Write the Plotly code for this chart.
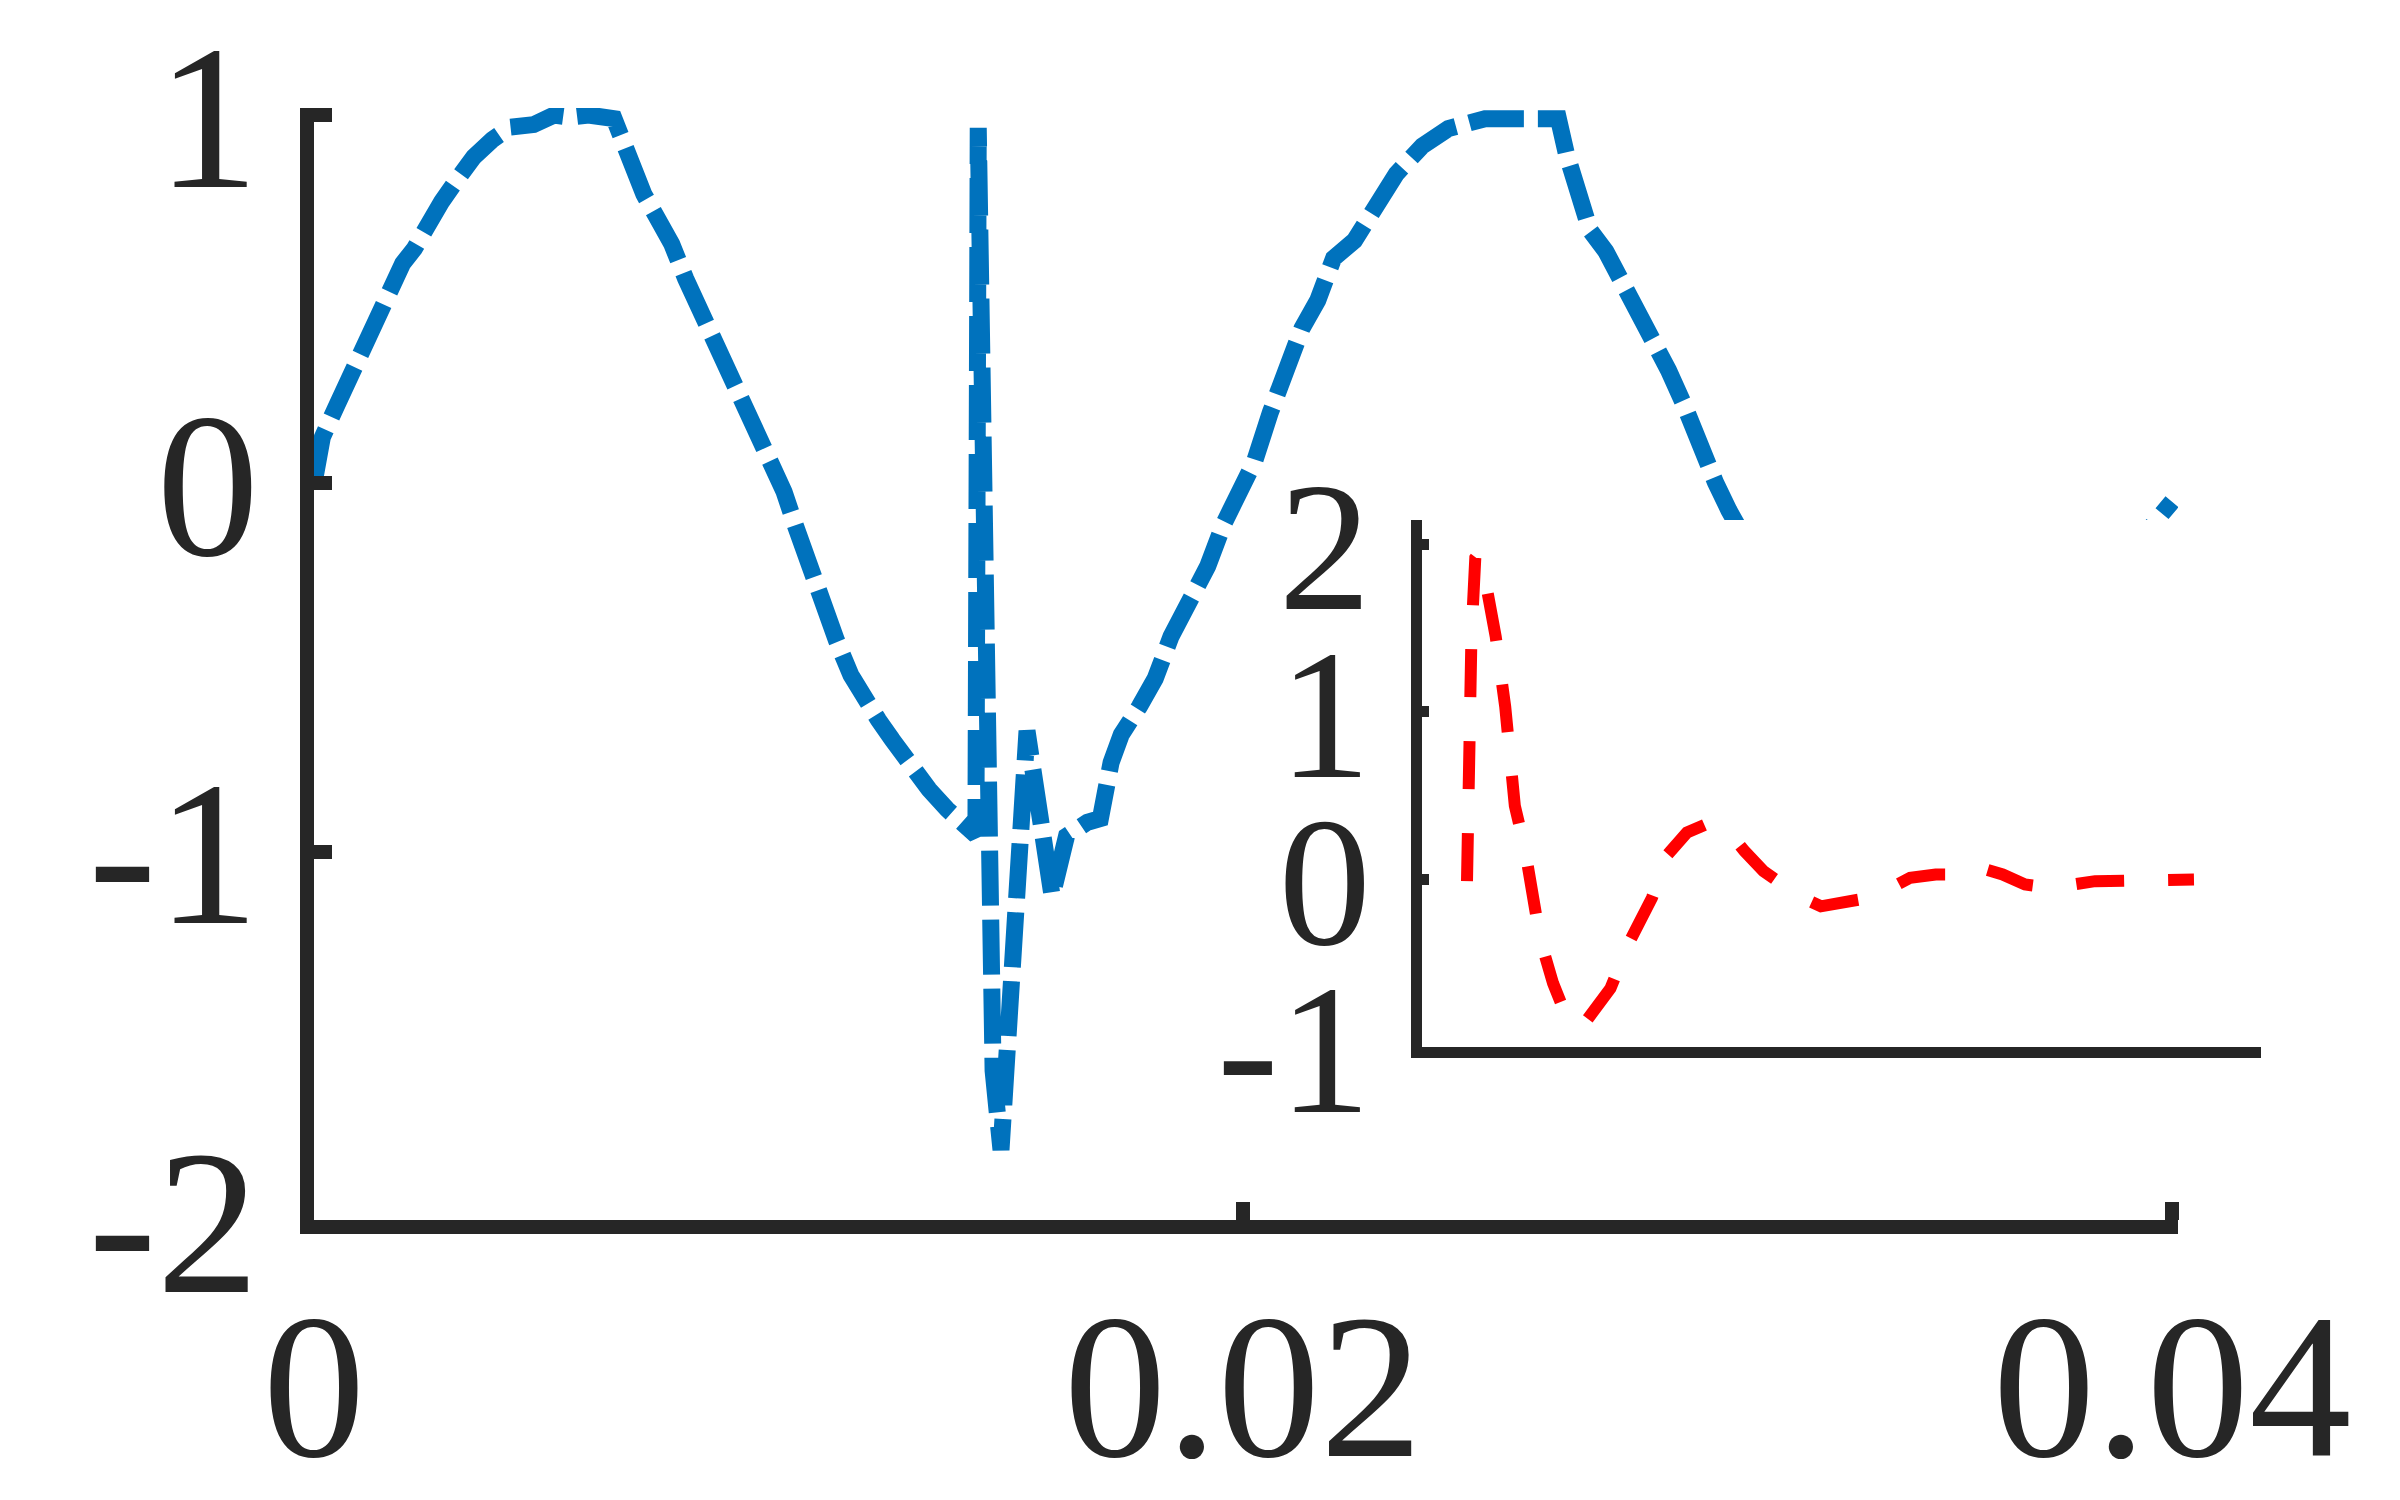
import plotly.graph_objects as go

# ---- main signal (blue) ----
t_main = [0.0, 0.00018, 0.00047, 0.00067, 0.00087, 0.00112, 0.00136, 0.00161, 0.00191, 0.00216,
          0.00245, 0.00275, 0.00309, 0.00344, 0.00384, 0.00423, 0.00473, 0.00517, 0.00552, 0.00591,
          0.00646, 0.00661, 0.00681, 0.0071, 0.0074, 0.0077, 0.008, 0.00839, 0.00878, 0.00918,
          0.00958, 0.00988, 0.01012, 0.01037, 0.01066, 0.01096, 0.01125, 0.01156, 0.01185, 0.01215,
          0.01245, 0.01284, 0.01324, 0.01363, 0.01403, 0.01425, 0.0143, 0.01462, 0.01479, 0.01535,
          0.01589, 0.0162, 0.01665, 0.01693, 0.01716, 0.01738, 0.01777, 0.01811, 0.01845, 0.01884,
          0.01924, 0.01958, 0.01992, 0.02025, 0.02059, 0.02093, 0.02127, 0.02161, 0.02195, 0.0224,
          0.02285, 0.0233, 0.02386, 0.02442, 0.02521, 0.02589, 0.02679, 0.02696, 0.02719, 0.02747,
          0.02781, 0.02814, 0.02848, 0.02882, 0.02916, 0.0295, 0.02984, 0.03017, 0.03046, 0.031,
          0.032, 0.033, 0.034, 0.035, 0.036, 0.037, 0.038, 0.039, 0.0398, 0.04]
v_main = [0.0, 0.125, 0.206, 0.26, 0.327, 0.395, 0.455, 0.53, 0.597, 0.637,
          0.704, 0.765, 0.826, 0.886, 0.933, 0.967, 0.974, 1.0, 0.994, 1.0,
          0.99, 0.94, 0.866, 0.785, 0.718, 0.65, 0.556, 0.448, 0.354, 0.246,
          0.139, 0.058, -0.023, -0.117, -0.225, -0.333, -0.427, -0.521, -0.589, -0.642,
          -0.696, -0.77, -0.831, -0.885, -0.925, -0.955, 0.965, -1.595, -1.81, -0.672,
          -1.12, -0.958, -0.92, -0.91, -0.758, -0.682, -0.606, -0.53, -0.416, -0.321,
          -0.225, -0.111, -0.035, 0.06, 0.193, 0.307, 0.421, 0.497, 0.611, 0.659,
          0.744, 0.84, 0.916, 0.963, 0.99, 0.99, 0.99, 0.896, 0.782, 0.687,
          0.63, 0.554, 0.459, 0.383, 0.307, 0.212, 0.098, 0.003, -0.073, -0.2,
          -0.42, -0.65, -0.85, -0.97, -0.85, -0.62, -0.4, -0.2, -0.08, -0.05]

# ---- inset signal (red) ----
t_inset = [0.0, 0.00026, 0.00061, 0.00114, 0.00149, 0.00263, 0.00395, 0.00526, 0.00658, 0.00789,
           0.00921, 0.01009, 0.01184, 0.0136, 0.01579, 0.01974, 0.02237, 0.02544, 0.02763, 0.03026,
           0.03289, 0.03596, 0.03816, 0.04079, 0.04342, 0.04518, 0.04868, 0.05219, 0.05526, 0.05833,
           0.06096, 0.06447, 0.06798, 0.07061, 0.07368, 0.07675, 0.08026, 0.0864, 0.09342, 0.1]
v_inset = [-0.01, 0.70, 1.45, 1.92, 1.94, 1.76, 1.45, 1.03, 0.44, 0.20,
           -0.09, -0.36, -0.62, -0.81, -0.88, -0.65, -0.37, -0.11, 0.15, 0.28,
           0.33, 0.29, 0.17, 0.05, -0.03, -0.09, -0.16, -0.13, -0.11, -0.05,
           0.01, 0.03, 0.03, 0.07, 0.03, -0.03, -0.05, -0.01, 0.0, 0.0]

main_xticks = [0, 0.02, 0.04]
main_xlabels = ["0", "0.02", "0.04"]
main_yticks = [-2, -1, 0, 1]
main_ylabels = ["-2", "-1", "0", "1"]
inset_yticks = [-1, 0, 1, 2]
inset_ylabels = ["-1", "0", "1", "2"]

AX = "#262626"
FONT = "Liberation Serif, Times New Roman, serif"

# page body has an 8px margin: work in page pixels and convert to paper fractions
OFF = 8
W, H = 2400 - OFF, 1500 - OFF


def px(x):
    return (x - OFF) / W


def py(y):
    return 1 - (y - OFF) / H


fig = go.Figure()
fig.add_trace(go.Scatter(x=t_main, y=v_main, mode="lines", xaxis="x", yaxis="y",
                         line=dict(color="#0072BD", width=17, dash="55px,14px"),
                         showlegend=False, hoverinfo="skip"))
fig.add_trace(go.Scatter(x=t_inset, y=v_inset, mode="lines", xaxis="x2", yaxis="y2",
                         line=dict(color="#FF0000", width=12, dash="48px,44px"),
                         showlegend=False, hoverinfo="skip"))

fig.update_layout(
    width=W, height=H, autosize=False,
    margin=dict(l=0, r=0, t=0, b=0),
    paper_bgcolor="white", plot_bgcolor="white",
    xaxis=dict(domain=[px(314), px(2178)], range=[0, 0.040129], anchor="y",
               showline=True, linewidth=14, linecolor=AX, showgrid=False, zeroline=False,
               ticks="inside", ticklen=18, tickwidth=14, tickcolor=AX,
               tickvals=main_xticks, ticktext=main_xlabels, ticklabelstandoff=-24,
               ticklabeloverflow="allow",
               tickfont=dict(family=FONT, size=205, color=AX), automargin=False),
    yaxis=dict(domain=[py(1220), py(108)], range=[-2, 1.019], anchor="x",
               showline=True, linewidth=14, linecolor=AX, showgrid=False, zeroline=False,
               ticks="inside", ticklen=18, tickwidth=14, tickcolor=AX,
               tickvals=main_yticks, ticktext=main_ylabels, ticklabelstandoff=0,
               ticklabeloverflow="allow",
               tickfont=dict(family=FONT, size=205, color=AX), automargin=False),
    xaxis2=dict(domain=[px(1422), px(2261)], range=[-0.00619, 0.10922], anchor="y2",
                showline=True, linewidth=11, linecolor=AX, showgrid=False, zeroline=False,
                ticks="", showticklabels=False, automargin=False),
    yaxis2=dict(domain=[py(1047), py(520)], range=[-1, 2.146], anchor="x2",
                showline=True, linewidth=11, linecolor=AX, showgrid=False, zeroline=False,
                ticks="inside", ticklen=7, tickwidth=11, tickcolor=AX,
                tickvals=inset_yticks, ticktext=inset_ylabels, ticklabelstandoff=3,
                ticklabeloverflow="allow",
                tickfont=dict(family=FONT, size=185, color=AX), automargin=False),
)

fig.write_html("out.html")
